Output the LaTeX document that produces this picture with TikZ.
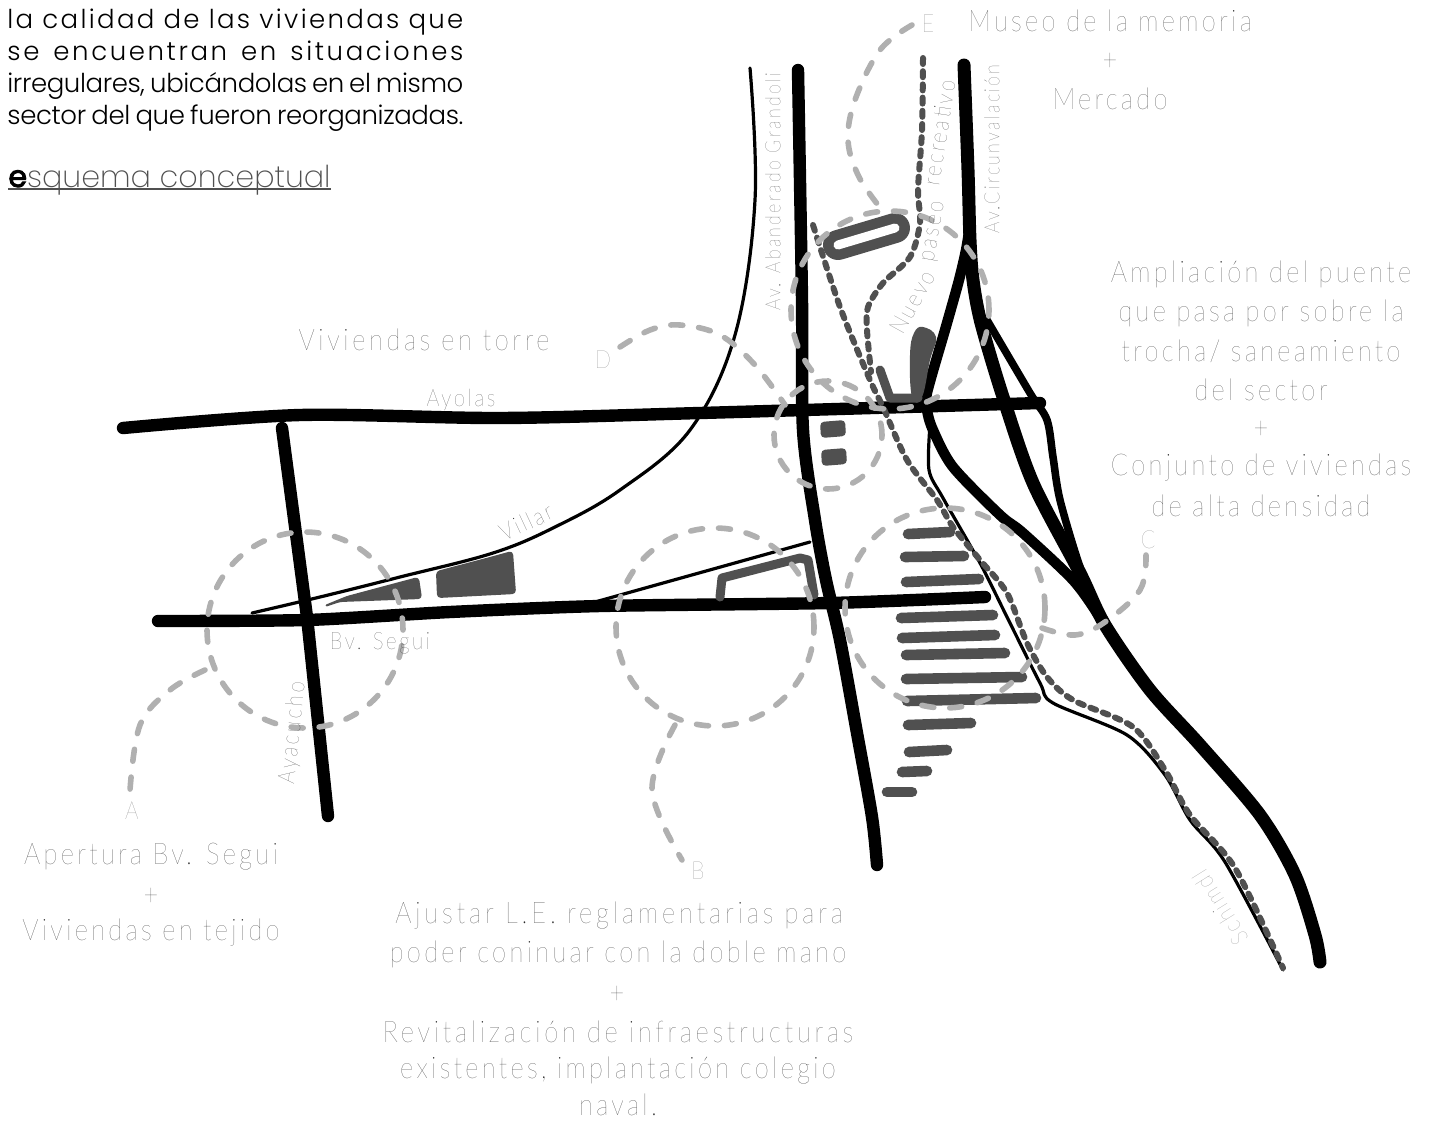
\documentclass[tikz,border=0pt]{standalone}
\usepackage{fontspec}
\setmainfont{Poppins}
\newfontfamily\bodyf{Poppins Light}
\newfontfamily\headf{Poppins ExtraLight}
\newfontfamily\boldf{Poppins}[FakeBold=3]
\newfontfamily\thinf{Lato Hairline}[LetterSpace=11,FakeStretch=0.85]
\newcommand{\lsp}[2]{{\addfontfeature{LetterSpace=#1}#2}}
\definecolor{darkfill}{HTML}{505050}
\definecolor{greydash}{HTML}{B0B0B0}
\definecolor{labelgrey}{HTML}{2A2A2A}
\definecolor{letgrey}{HTML}{707070}
\tikzset{
  x=0.5pt,y=-0.5pt,
  roadA/.style={line width=6.2pt,black,line cap=round,line join=round},
  roadB/.style={line width=5.2pt,black,line cap=round,line join=round},
  roadC/.style={line width=3.8pt,black,line cap=round,line join=round},
  thinroad/.style={line width=1.6pt,black,line cap=round,line join=round},
  bar/.style={line width=5.3pt,darkfill,line cap=round},
  darkdash/.style={line width=3pt,darkfill,line cap=round,dash pattern=on 3pt off 3.6pt},
  circdash/.style={line width=2.8pt,greydash,line cap=round,dash pattern=on 6pt off 8pt},
  block/.style={fill=darkfill,draw=darkfill,line width=1pt,line join=round,rounded corners=1.5pt},
  lab/.style={inner sep=0pt,labelgrey,yshift=-0.8pt,font=\thinf\fontsize{15}{18}\selectfont},
  slab/.style={inner sep=0pt,labelgrey,font=\thinf\fontsize{10.5}{12}\selectfont},
  mlab/.style={inner sep=0pt,labelgrey,font=\thinf\fontsize{12}{14}\selectfont},
  letter/.style={inner sep=0pt,letgrey,font=\thinf\fontsize{12.5}{14}\selectfont},
  body/.style={inner sep=0pt,anchor=base west,black}
}
\begin{document}
\begin{tikzpicture}
\useasboundingbox (0,0) rectangle (1435,1120);
% thin roads
\draw[thinroad] plot[smooth,tension=0.6] coordinates {(750,68) (755,200) (735,335) (690,430) (620,490) (555,527) (493,553) (400,577) (320,597) (252,613)};
\draw[thinroad] (810,542) -- (595,602);
\draw[thinroad] plot[smooth,tension=0.5] coordinates {(930,425) (929,470) (943,498) (980,563) (1007,617) (1040,683) (1053,703) (1127,735) (1165,775) (1190,820) (1225,862) (1283,970)};
% thick roads
\draw[roadA] plot[smooth,tension=0.5] coordinates {(123,428) (300,415) (500,418) (700,413) (1040,403)};
\draw[roadA] (282,428) -- (307,617) -- (328,816);
\draw[roadA] plot[smooth,tension=0.4] coordinates {(158,621) (307,620) (450,612) (600,606) (830,603) (985,597)};
\draw[roadA] plot[smooth,tension=0.5] coordinates {(798,70) (802,300) (803,430) (815,520) (826,580) (840,640) (857,733) (872,817) (877,865)};
\draw[roadA,line width=6.5pt] plot[smooth,tension=0.5] coordinates {(964,65) (968,170) (970,240) (973,280) (981,323) (1003,397) (1033,483) (1080,573) (1105,625) (1150,690) (1200,745) (1260,815) (1295,875) (1315,935) (1320,962)};
\draw[roadB] plot[smooth,tension=0.5] coordinates {(970,225) (966,250) (959,280) (947,323) (927,393) (927,410) (933,430) (953,467) (1000,515) (1023,533) (1073,580) (1097,613)};
\draw[roadC] plot[smooth,tension=0.5] coordinates {(987,320) (1030,393) (1047,420) (1053,457) (1060,500) (1080,567) (1100,613)};
% buildings
\draw[block] (325,606) -- (347,597) -- (418,578) -- (421,598) -- (340,601) -- cycle;
\draw[block] (437,572) -- (490,558) -- (512,552) -- (515,593) -- (438,597) -- cycle;
\draw[darkfill,line width=4.5pt,line cap=round,line join=round] (720,597) -- (722,578) -- (800,558) -- (808,560) -- (814,595);
\draw[darkfill,line width=15pt,line cap=round] (838,245) -- (895,228);
\draw[white,line width=4.5pt,line cap=round] (838,245) -- (895,228);
\fill[darkfill] plot[smooth cycle,tension=0.7] coordinates {(923,327) (936,337) (930,360) (922,397) (912,397) (910,355) (914,333)};
\draw[darkfill,line width=4.5pt,line cap=round,line join=round] (880,370) -- (890,398) -- (918,398);
\fill[darkfill,rounded corners=2pt] (820,422) -- (845,420) -- (846,436) -- (821,438) -- cycle;
\fill[darkfill,rounded corners=2pt] (821,450) -- (846,448) -- (847,464) -- (822,466) -- cycle;
% stripes
\draw[bar] (908,534) -- (950,532);
\draw[bar] (905,557) -- (964,556);
\draw[bar] (906,582) -- (979,579);
\draw[bar] (901,618) -- (993,615);
\draw[bar] (902,638) -- (995,635);
\draw[bar] (906,655) -- (1005,653);
\draw[bar] (906,679) -- (1022,677);
\draw[bar] (907,701) -- (1036,698);
\draw[bar] (908,725) -- (971,723);
\draw[bar] (909,752) -- (947,750);
\draw[bar] (902,772) -- (927,771);
\draw[bar] (887,792) -- (912,792);
% dashed tracks
\draw[darkdash] plot[smooth,tension=0.5] coordinates {(813,225) (840,307) (870,380) (883,407) (907,460) (937,500) (953,527) (980,560) (1007,593) (1027,643) (1047,677) (1073,700) (1133,727) (1165,770) (1190,815) (1235,868) (1283,968)};
\draw[darkdash] plot[smooth,tension=0.5] coordinates {(923,58) (922,130) (918,190) (920,223) (910,257) (883,283) (868,307) (867,330) (871,372)};
% grey circles
\draw[circdash] (305,630) circle[radius=49pt];
\draw[circdash] (715,627) circle[radius=49.5pt];
\draw[circdash] (945,608) circle[radius=50pt];
\draw[circdash] (828,435) circle[radius=27pt];
\draw[circdash] (890,310) circle[radius=49.5pt];
\draw[circdash] plot[smooth,tension=0.6] coordinates {(205,670) (170,690) (140,725) (130,790)};
\draw[circdash] plot[smooth,tension=0.6] coordinates {(675,725) (652,790) (682,860)};
\draw[circdash] plot[smooth,tension=0.6] coordinates {(1042,628) (1075,635) (1105,622) (1140,590) (1146,555)};
\draw[circdash] plot[smooth,tension=0.6] coordinates {(620,347) (650,330) (680,325) (720,335) (755,365) (785,405)};
\draw[circdash] plot[smooth,tension=0.6] coordinates {(912,25) (880,50) (855,100) (848,140) (858,175) (878,205)};
% body text
\node[body] (t1) at (7,28) {\bodyf\addfontfeature{LetterSpace=9}\fontsize{13}{16}\selectfont\makebox[228pt][s]{la calidad de las viviendas que}};
\node[body] (t2) at (7,60) {\bodyf\addfontfeature{LetterSpace=10}\fontsize{13}{16}\selectfont\makebox[228pt][s]{se encuentran en situaciones}};
\node[body] (t3) at (7,92) {\bodyf\addfontfeature{LetterSpace=-1.5}\fontsize{13}{16}\selectfont\makebox[228pt][s]{irregulares, ubicándolas en el mismo}};
\node[body] (t4) at (7,124) {\bodyf\addfontfeature{LetterSpace=-1.5}\fontsize{13}{16}\selectfont\makebox[228pt][s]{sector del que fueron reorganizadas.}};
\node[body] (t5) at (8,187) {{\boldf\color{black}\fontsize{15.1}{18}\selectfont e}{\headf\color{darkfill}\fontsize{15.1}{18}\selectfont squema conceptual}};
\coordinate (u1) at (8,189);
\coordinate (u2) at (331,189);
\draw[darkfill,line width=1pt] (u1) -- (u2);
% labels
\node[lab] (m1) at (1110,19) {Museo de la memoria};
\node[lab] (m2) at (1110,60) {+};
\node[lab] (m3) at (1110,97) {Mercado};
\node[lab] (v1) at (424,338) {\lsp{12}{Viviendas en torre}};
\node[lab] (r1) at (1261,273) {Ampliación del puente};
\node[lab] (r2) at (1261,312) {que pasa por sobre la};
\node[lab] (r3) at (1261,350) {trocha/ saneamiento};
\node[lab] (r4) at (1261,388) {del sector};
\node[lab] (r5) at (1261,428) {+};
\node[lab] (r6) at (1261,466) {Conjunto de viviendas};
\node[lab] (r7) at (1261,504) {de alta densidad};
\node[lab] (a1) at (151,855) {Apertura Bv. Segui};
\node[lab] (a2) at (151,895) {+};
\node[lab] (a3) at (151,931) {Viviendas en tejido};
\node[lab] (b1) at (619,914) {\lsp{13}{Ajustar L.E. reglamentarias para}};
\node[lab] (b2) at (618,953) {poder coninuar con la doble mano};
\node[lab] (b3) at (617,993) {+};
\node[lab] (b4) at (618,1030) {\lsp{12.5}{Revitalización de infraestructuras}};
\node[lab] (b5) at (618,1069) {existentes, implantación colegio};
\node[lab] (b6) at (618,1103) {naval.};
\node[letter] (la) at (132,811) {A};
\node[letter] (lb) at (698,871) {B};
\node[letter] (lc) at (1148,540) {C};
\node[letter] (ld) at (603,360) {D};
\node[letter] (le) at (928,24) {E};
\node[mlab] (s1) at (461,400) {Ayolas};
\node[mlab,rotate=25] (s2) at (526,522) {Villar};
\node[mlab] (s3) at (380,643) {Bv. Segui};
\node[mlab,rotate=84] (s4) at (293,733) {Ayacucho};
\node[slab,rotate=90] (s5) at (773,192) {Av. Abanderado Grandoli};
\node[slab,rotate=90] (s6) at (992,149) {Av.Circunvalación};
\node[mlab,rotate=122,letgrey] (s7) at (1220,908) {Schimdl};
\node[mlab,rotate=61] (p1) at (912,302) {Nuevo};
\node[mlab,rotate=80] (p2) at (935,232) {paseo};
\node[mlab,rotate=81] (p3) at (939,133) {recreativo};
\end{tikzpicture}
\end{document}
